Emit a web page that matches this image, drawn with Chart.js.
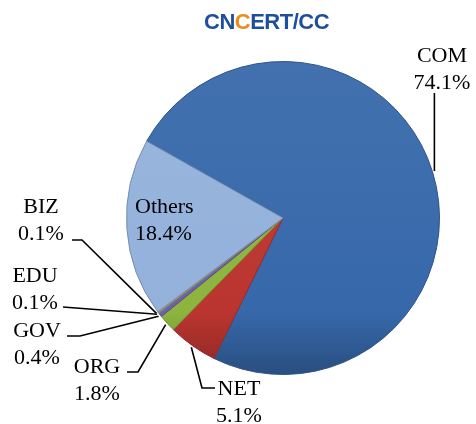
<!DOCTYPE html>
<html>
<head>
<meta charset="utf-8">
<script src="https://cdn.jsdelivr.net/npm/chart.js@4/dist/chart.umd.min.js"></script>
<style>
  html, body { margin: 0; padding: 0; background: #fff; }
  #wrap { position: relative; width: 476px; height: 424px; }
  #logo {
    position: absolute; left: 204px; top: 9px;
    font-family: "Liberation Sans", Arial, sans-serif; font-weight: bold;
    font-size: 22px; color: #1d4f9e; letter-spacing: -0.5px;
  }
  #logo .g { color: #f08a1c; }
</style>
</head>
<body>
<div id="wrap">
  <canvas id="chart" width="476" height="424"></canvas>
  <div id="logo">CN<span class="g">C</span>ERT/CC</div>
</div>
<script>
// datos del gráfico
const categories = ['COM', 'NET', 'ORG', 'GOV', 'EDU', 'BIZ', 'Others'];
const shares = [74.1, 5.1, 1.8, 0.4, 0.1, 0.1, 18.4];
const shareLabels = ['74.1%', '5.1%', '1.8%', '0.4%', '0.1%', '0.1%', '18.4%'];
const colors = ['#3768aa', '#bb3530', '#8cb43e', '#7060a8', '#4bacc6', '#f79646', '#93b1db'];

// posiciones de las etiquetas (texto y quiebre de la línea guía)
const labelLayout = {
    COM:    { x: 442, y: 62, align: 'center', path: function (p) { return [[p.x, 93]]; } },
    NET:    { x: 239, y: 395, align: 'center', path: function () { return [[215, 388], [202, 388]]; } },
    ORG:    { x: 97,  y: 373, align: 'center', path: function () { return [[127, 372], [138, 372]]; } },
    GOV:    { x: 37,  y: 337, align: 'center', path: function () { return [[67, 336], [80, 336]]; } },
    EDU:    { x: 35,  y: 282, align: 'center', path: function () { return [[63, 307]]; } },
    BIZ:    { x: 41,  y: 213, align: 'center', path: function () { return [[72, 240], [82, 240]]; } },
    Others: { x: 135, y: 213, align: 'left', path: null }
};

function shade(hex, f) {
    const n = parseInt(hex.slice(1), 16);
    let r = (n >> 16) & 255, g = (n >> 8) & 255, b = n & 255;
    if (f > 0) { r += (255 - r) * f; g += (255 - g) * f; b += (255 - b) * f; }
    else { r *= 1 + f; g *= 1 + f; b *= 1 + f; }
    return 'rgb(' + Math.round(r) + ',' + Math.round(g) + ',' + Math.round(b) + ')';
}

const labelPlugin = {
    id: 'leaderLabels',
    afterDraw: function (chart) {
        const ctx = chart.ctx;
        const arcs = chart.getDatasetMeta(0).data;
        ctx.save();
        ctx.font = '22px "Liberation Serif", "Times New Roman", serif';
        ctx.fillStyle = '#000';
        ctx.strokeStyle = '#000';
        ctx.lineWidth = 1.6;
        categories.forEach(function (cat, i) {
            const lay = labelLayout[cat];
            const arc = arcs[i];
            const mid = (arc.startAngle + arc.endAngle) / 2;
            const r = arc.outerRadius + 2;
            const p = { x: arc.x + Math.cos(mid) * r, y: arc.y + Math.sin(mid) * r };
            if (lay.path) {
                const pts = lay.path(p);
                ctx.beginPath();
                ctx.moveTo(pts[0][0], pts[0][1]);
                for (let k = 1; k < pts.length; k++) ctx.lineTo(pts[k][0], pts[k][1]);
                ctx.lineTo(p.x, p.y);
                ctx.stroke();
            }
            ctx.textAlign = lay.align;
            ctx.textBaseline = 'alphabetic';
            ctx.fillText(cat, lay.x, lay.y);
            ctx.fillText(shareLabels[i], lay.x, lay.y + 27);
        });
        ctx.restore();
    }
};

const ctx = document.getElementById('chart').getContext('2d');
const pieChart = new Chart(ctx, {
    type: 'pie',
    data: {
        labels: categories,
        datasets: [{
            data: shares,
            backgroundColor: function (c) {
                const base = colors[c.dataIndex];
                const area = c.chart.chartArea;
                if (!area) return base;
                const g = c.chart.ctx.createLinearGradient(0, area.top, 0, area.bottom);
                g.addColorStop(0, shade(base, 0.06));
                g.addColorStop(0.8, base);
                g.addColorStop(1, shade(base, -0.25));
                return g;
            },
            borderColor: colors.map(function (c) { return shade(c, -0.2); }),
            borderWidth: 1
        }]
    },
    options: {
        responsive: false,
        animation: false,
        rotation: -60.6,
        layout: { padding: { left: 126, top: 61, right: 36, bottom: 49 } },
        plugins: {
            legend: { display: false },
            tooltip: { enabled: false }
        }
    },
    plugins: [labelPlugin]
});
</script>
</body>
</html>
